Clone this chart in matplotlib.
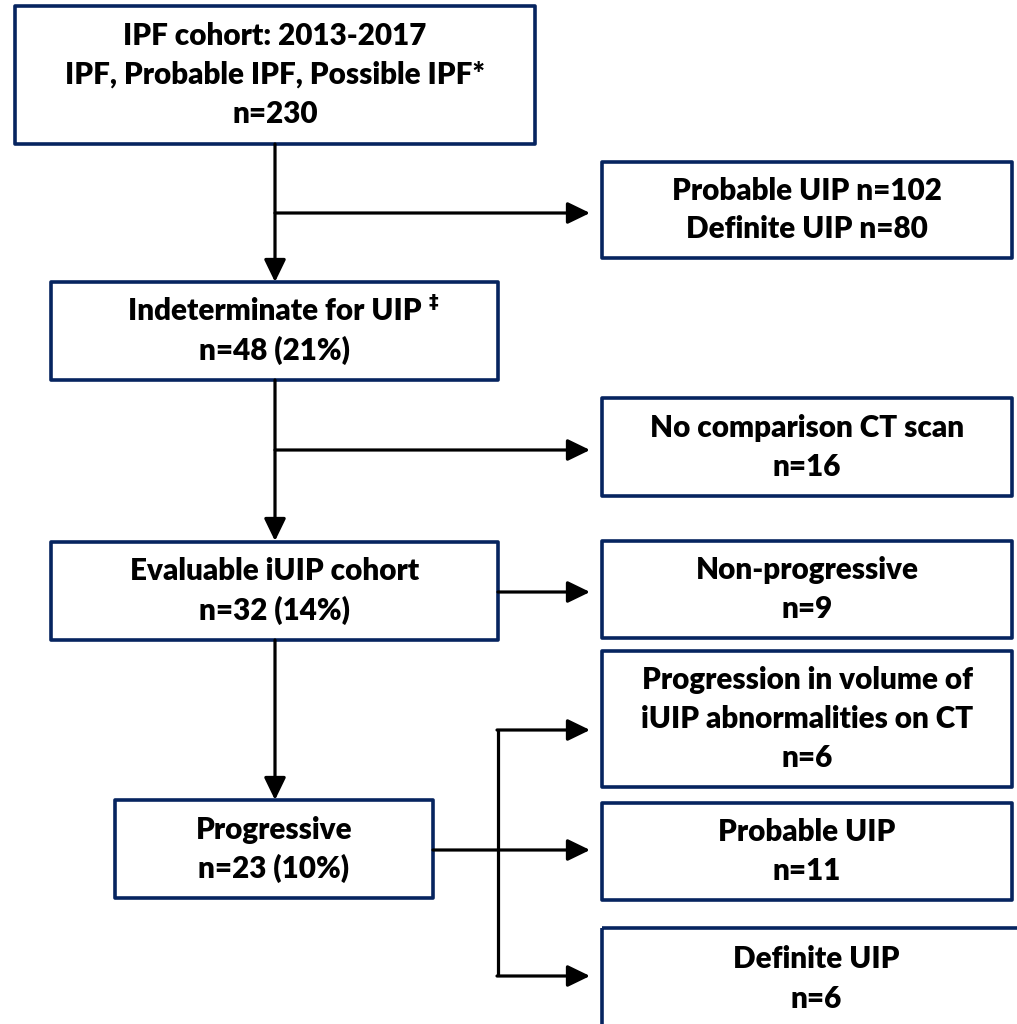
import matplotlib.pyplot as plt
from matplotlib.patches import Rectangle

plt.rcParams['font.family'] = ['Lato', 'DejaVu Sans']

# Inhalte der Kästen (Text je Zeile)
kohorte = ["IPF cohort: 2013-2017", "IPF, Probable IPF, Possible IPF*", "n=230"]
uip_ausgeschlossen = ["Probable UIP n=102", "Definite UIP n=80"]
indeterminate = ["Indeterminate for UIP", "n=48 (21%)"]
kein_vergleich = ["No comparison CT scan", "n=16"]
evaluable = ["Evaluable iUIP cohort", "n=32 (14%)"]
nicht_progressiv = ["Non-progressive", "n=9"]
progressiv = ["Progressive", "n=23 (10%)"]
volumen = ["Progression in volume of", "iUIP abnormalities on CT", "n=6"]
probable = ["Probable UIP", "n=11"]
definite = ["Definite UIP", "n=6"]

blau = "#06245f"
fs = 21.3
zeile = 39

fig = plt.figure(figsize=(10.17, 10.24), dpi=100)
ax = fig.add_axes([0, 0, 1, 1])
ax.set_xlim(0, 1017)
ax.set_ylim(1024, 0)
ax.axis('off')


def kasten(x0, y0, x1, y1, zeilen):
    ax.add_patch(Rectangle((x0, y0), x1 - x0, y1 - y0, fill=False,
                           edgecolor=blau, lw=2.6, joinstyle='round'))
    mitte = (y0 + y1) / 2
    n = len(zeilen)
    texte = []
    for i, t in enumerate(zeilen):
        texte.append(ax.text((x0 + x1) / 2, mitte + (i - (n - 1) / 2) * zeile, t,
                             ha='center', va='center', fontsize=fs,
                             fontweight='heavy'))
    return texte


def pfeil(x0, y0, x1, y1):
    ax.annotate("", xy=(x1, y1), xytext=(x0, y0),
                arrowprops=dict(arrowstyle='-|>,head_length=0.68,head_width=0.33',
                                lw=2.3, color='black', shrinkA=0, shrinkB=0,
                                mutation_scale=20))


def linie(xs, ys):
    ax.plot(xs, ys, color='black', lw=2.3, solid_capstyle='butt')


kasten(15, 6, 535, 144, kohorte)
kasten(602, 162, 1012, 258, uip_ausgeschlossen)
ind = kasten(51, 282, 498, 380, indeterminate)
kasten(602, 398, 1012, 496, kein_vergleich)
kasten(51, 542, 498, 640, evaluable)
kasten(602, 541, 1012, 638, nicht_progressiv)
kasten(115, 800, 433, 898, progressiv)
kasten(602, 651, 1012, 787, volumen)
kasten(602, 803, 1012, 900, probable)
kasten(602, 928, 1030, 1030, definite)

# Doppelkreuz hinter "Indeterminate for UIP"
fig.canvas.draw()
bb = ind[0].get_window_extent().transformed(ax.transData.inverted())
ax.text(bb.x1 + 7, 303, "\u2021", ha='left', va='center', fontsize=14,
        fontweight='bold', family=['DejaVu Sans'])

# Verbindungen
pfeil(275, 144, 275, 282)
pfeil(275, 213, 590, 213)
pfeil(275, 380, 275, 541)
pfeil(275, 450, 590, 450)
pfeil(498, 592, 590, 592)
pfeil(275, 640, 275, 800)
linie([498, 498], [730, 976])
pfeil(497, 730, 590, 730)
pfeil(433, 850, 590, 850)
pfeil(497, 976, 590, 976)

fig.savefig("out.png", dpi=100)
